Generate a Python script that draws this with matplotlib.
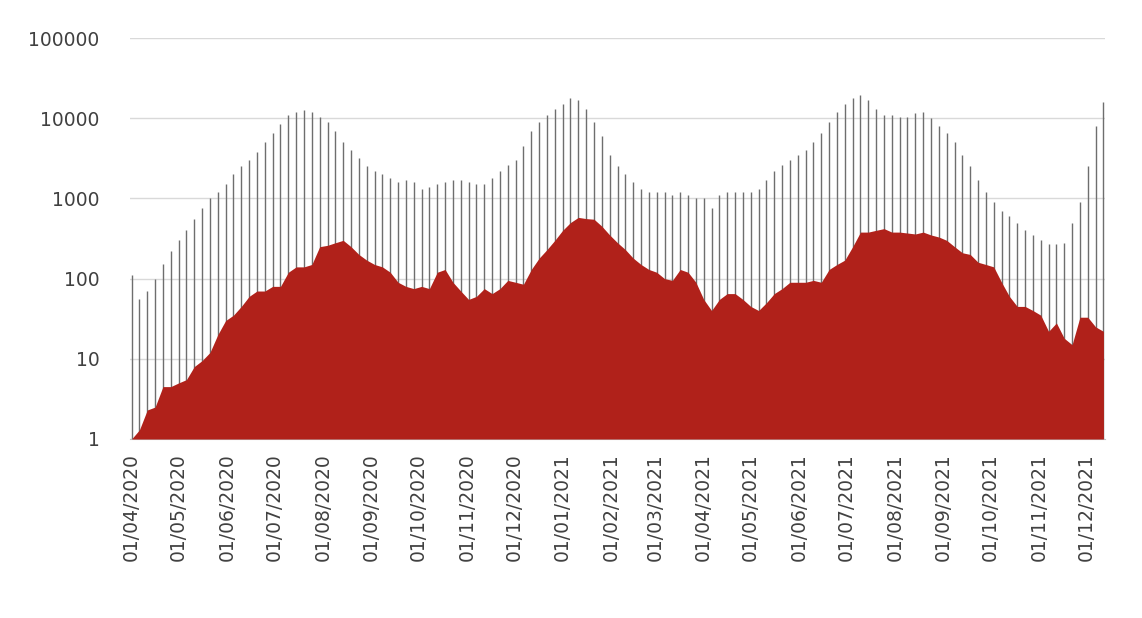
import matplotlib
matplotlib.use("Agg")
import matplotlib.pyplot as plt
import matplotlib.dates as mdates
import pandas as pd
import numpy as np

start = "2020-04-01"
grey_vals = [110,55,70,100,150,220,
 300,400,550,750,1000,1200,1500,
 2000,2500,3000,3800,5000,6500,
 8500,11000,12000,12500,12000,10500,
 9000,7000,5000,4000,3200,2500,
 2200,2000,1800,1600,1700,1600,
 1300,1400,1500,1600,1700,1700,
 1600,1500,1500,1800,2200,2600,
 3000,4500,7000,9000,11000,13000,
 15000,18000,17000,13000,9000,6000,3500,
 2500,2000,1600,1300,1200,
 1200,1200,1100,1200,1100,1000,
 1000,750,1100,1200,1200,1200,
 1200,1300,1700,2200,2600,3000,3500,
 4000,5000,6500,9000,12000,15000,
 18000,19500,17000,13000,11000,11000,
 10500,10500,11500,12000,10000,8000,
 6500,5000,3500,2500,1700,1200,
 900,700,600,500,400,350,
 300,270,270,280,500,900,
 2500,8000,16000]
red_vals = [1,1.3,2.3,2.5,4.5,4.5,
 5,5.5,8,9.5,12,20,30,
 35,45,60,70,70,80,
 80,120,140,140,150,250,
 260,280,300,250,200,170,
 150,140,120,90,80,75,
 80,75,120,130,90,70,
 55,60,75,65,75,95,
 90,85,130,180,230,300,
 400,500,580,560,550,450,350,
 280,230,180,150,130,
 120,100,95,130,120,90,
 55,40,55,65,65,55,
 45,40,50,65,75,90,90,
 90,95,90,130,150,170,
 250,380,380,400,420,380,
 380,370,360,380,350,330,
 300,250,210,200,160,150,
 140,90,60,45,45,40,
 35,22,28,18,15,33,
 33,25,22]
dates = pd.date_range(start, periods=len(grey_vals), freq="5D")

fig = plt.figure(figsize=(11.42, 6.18), dpi=100)
ax = fig.add_axes([130/1142, 1-439/618, (1105-130)/1142, (439-38)/618])
ax.set_yscale("log")
ax.set_ylim(1, 100000)
ax.set_xlim(pd.Timestamp("2020-03-31"), pd.Timestamp("2021-12-13"))
ax.vlines(dates, 1, grey_vals, color="#6e6e6e", lw=1.0, zorder=2)
ax.fill_between(dates, 1, red_vals, color="#B0211A", zorder=3, lw=0)
ax.grid(axis="y", color="#d9d9d9", lw=1, zorder=0)
for s in ["top", "right", "left"]:
    ax.spines[s].set_visible(False)
ax.spines["bottom"].set_color("#bfbfbf")
ax.set_yticks([1,10,100,1000,10000,100000])
ax.set_yticklabels(["1","10","100","1000","10000","100000"])
ax.minorticks_off()
ax.xaxis.set_major_locator(mdates.MonthLocator())
ax.xaxis.set_major_formatter(mdates.DateFormatter("%d/%m/%Y"))
ax.tick_params(axis="y", length=0, labelsize=13.5, colors="#404040", pad=22)
ax.tick_params(axis="x", length=0, labelsize=13.5, colors="#404040", rotation=90, pad=10)
fig.savefig("out.png", dpi=100)
